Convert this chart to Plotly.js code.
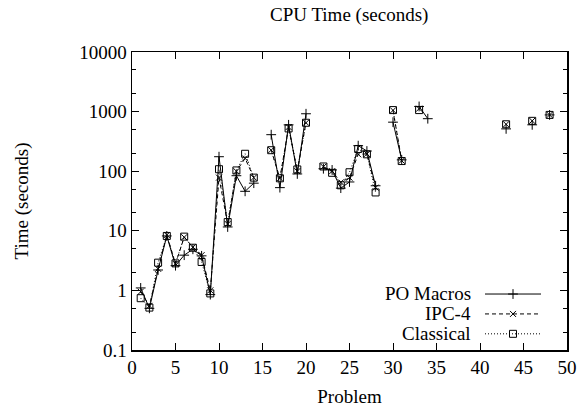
<!DOCTYPE html>
<html>
<head>
<meta charset="utf-8">
<script src="https://cdn.plot.ly/plotly-3.0.1.min.js"></script>
<style>html,body{margin:0;padding:0;background:#fff;}#chart{width:582px;height:411px;}</style>
</head>
<body>
<div id="chart"></div>
<script>
var problems = [1,2,3,4,5,6,7,8,9,10,11,12,13,14,15,16,17,18,19,20,21,22,23,24,25,26,27,28,29,30,31,32,33,34,35,43,44,46,47,48];
var poMacros = [1.1,0.5,2.2,8.2,2.6,3.9,4.9,3.8,0.85,175,11.6,84,46,63,null,410,53,600,90,920,null,110,105,52,66,268,218,57,null,665,155,null,1220,760,null,513,null,600,null,880];
var ipc4 = [0.95,0.55,2.3,8.5,2.8,7.8,5.3,3.9,1.0,78,13,100,164,78,null,226,76,550,100,650,null,119,100,65,78,192,195,53,null,1050,150,null,1120,null,null,613,null,700,null,880];
var classical = [0.74,0.515,2.92,8.2,2.84,7.98,5.2,3.0,0.89,108,14,103,196,78,null,225,76,522,107,650,null,120,94,58,96,236,192,44,null,1060,148,null,1060,null,null,613,null,700,null,880];
var seriesNames = ["PO Macros","IPC-4","Classical"];
var yTickVals = [0.1,1,10,100,1000,10000];
var yTickText = ["0.1","1","10","100","1000","10000"];
var yMinorVals = [0.2,0.5,2,5,20,50,200,500,2000,5000];
var xTickVals = [0,5,10,15,20,25,30,35,40,45,50];

var FONT = "Liberation Serif, Times New Roman, serif";
function tr(y, dash, sym, size){
  return {x: problems, y: y, name: ' ', type: 'scatter', mode: 'lines+markers',
    connectgaps: false,
    line: {color: '#000', width: 1, dash: dash},
    marker: {symbol: sym, size: size, color: '#000', line: {color: '#000', width: 1}}};
}
var data = [
  tr(poMacros, 'solid', 'cross-thin', 7),
  tr(ipc4, '4px,3px', 'x-thin', 6),
  tr(classical, '1px,2px', 'square-open', 7)
];
var legY = [0.191, 0.124, 0.057];
var annotations = seriesNames.map(function(n, i){
  return {text: n, xref: 'paper', yref: 'paper', x: 0.784, y: legY[i], xanchor: 'right', yanchor: 'middle',
    showarrow: false, font: {family: FONT, size: 19, color: '#000'}};
});
var layout = {
  width: 582, height: 411,
  margin: {l: 132, r: 15, t: 52, b: 61},
  paper_bgcolor: '#fff', plot_bgcolor: '#fff',
  font: {family: FONT, size: 19, color: '#000'},
  title: {text: 'CPU Time (seconds)', x: 0.6, xanchor: 'center', y: 0.965, yanchor: 'middle', font: {family: FONT, size: 19}},
  showlegend: true,
  annotations: annotations,
  legend: {x: 0.8, xanchor: 'left', y: 0.238, yanchor: 'top', bgcolor: 'rgba(0,0,0,0)', font: {size: 13}, itemwidth: 56, tracegroupgap: 0},
  xaxis: {range: [0, 50], tickvals: xTickVals, ticks: 'inside', ticklen: 7, tickwidth: 1, tickcolor: '#000',
    showline: true, linecolor: '#000', linewidth: 1.5, mirror: 'ticks', showgrid: false, zeroline: false,
    title: {text: 'Problem', font: {family: FONT, size: 19}, standoff: 12}},
  yaxis: {type: 'log', range: [-1, 4], tickvals: yTickVals, ticktext: yTickText, ticks: 'inside', ticklen: 7, tickwidth: 1, tickcolor: '#000',
    minor: {tickmode: 'array', tickvals: yMinorVals, ticks: 'inside', ticklen: 4, tickcolor: '#000', showgrid: false},
    showline: true, linecolor: '#000', linewidth: 1.5, mirror: 'ticks', showgrid: false, zeroline: false,
    title: {text: 'Time (seconds)', font: {family: FONT, size: 19}, standoff: 45}}
};
Plotly.newPlot('chart', data, layout, {displayModeBar: false, staticPlot: true});
</script>
</body>
</html>
